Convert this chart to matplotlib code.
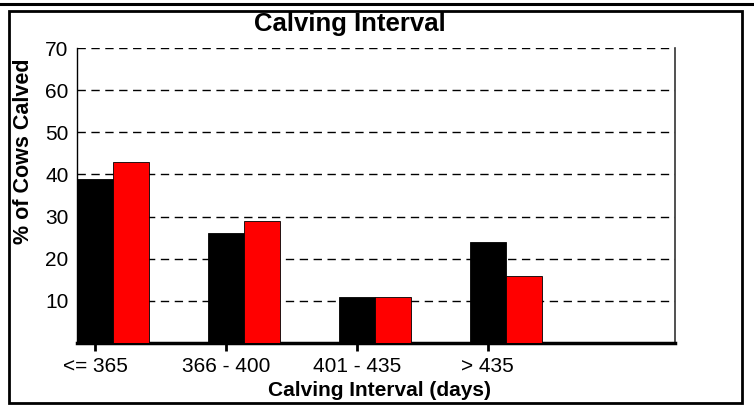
import numpy as np
import matplotlib.pyplot as plt
from matplotlib.patches import Rectangle
from matplotlib.lines import Line2D

plt.rcParams['font.family'] = ['Liberation Sans', 'DejaVu Sans']

# datos
categorias = ['<= 365', '366 - 400', '401 - 435', '> 435']
serie_negra = [39, 26, 11, 24]
serie_roja = [43, 29, 11, 16]
yticks = [10, 20, 30, 40, 50, 60, 70]

W, H = 754, 405
fig = plt.figure(figsize=(W / 100, H / 100), dpi=100)

def px(x, y):
    """pixeles (desde arriba a la izquierda) -> coordenadas de figura"""
    return x / W, 1 - y / H

# marco exterior
fig.add_artist(Line2D([0, 1], [1 - 3.5 / H] * 2, color='black', lw=2.2,
                      transform=fig.transFigure))
fig.add_artist(Rectangle(px(9, 403), (742 - 9) / W, (403 - 11) / H,
                         fill=False, edgecolor='black', lw=2,
                         transform=fig.transFigure))

ax = fig.add_axes([77 / W, (H - 343) / H, (675 - 77) / W, (343 - 48) / H])

x = np.arange(len(categorias))
ancho = 0.275
ax.bar(x, serie_negra, width=ancho, color='black', edgecolor='black', lw=0.6, zorder=3)
ax.bar(x + ancho, serie_roja, width=ancho, color='#ff0000', edgecolor='black', lw=0.6, zorder=3)

ax.set_xlim(-0.137, 4.43)
ax.set_ylim(0, 70)
ax.set_yticks(yticks)
ax.set_xticks(x)
ax.set_xticklabels(categorias)
ax.tick_params(axis='y', length=0, labelsize=15, pad=6)
ax.tick_params(axis='x', length=6, width=2, direction='out', labelsize=15, pad=4)

for v in yticks:
    ax.axhline(v, color='black', lw=1, ls=(0, (6, 4)), zorder=1)

ax.spines['top'].set_visible(False)
ax.spines['bottom'].set_linewidth(2.5)
ax.spines['left'].set_linewidth(1)
ax.spines['right'].set_linewidth(1.2)
ax.spines['right'].set_color('#333333')

# textos posicionados a mano como en la imagen original
fig.text(*px(350, 24), 'Calving Interval', ha='center', va='center',
         fontsize=18.5, fontweight='bold')
fig.text(*px(379, 390), 'Calving Interval (days)', ha='center', va='center',
         fontsize=15, fontweight='bold')
fig.text(*px(23.5, 151), '% of Cows Calved', ha='center', va='center',
         rotation=90, fontsize=15.5, fontweight='bold')

fig.savefig('out.png', dpi=100)
